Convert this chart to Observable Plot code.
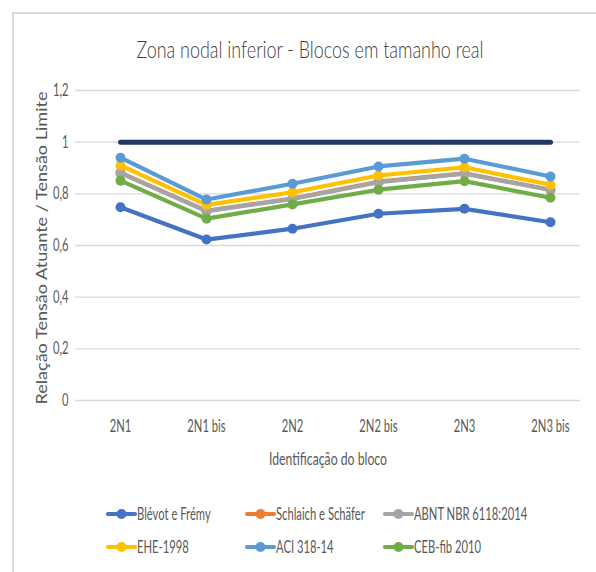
<!DOCTYPE html>
<html><head><meta charset="utf-8">
<script src="https://cdn.jsdelivr.net/npm/d3@7"></script>
<script src="https://cdn.jsdelivr.net/npm/@observablehq/plot@0.6"></script>
<style>
html,body{margin:0;padding:0;background:#fff;}
#wrap{position:relative;width:596px;height:572px;overflow:hidden;background:#fff;}
#wrap > svg{position:absolute;left:0;top:0;}
</style></head><body>
<div id="wrap"></div>
<script>
const categories = ["2N1", "2N1 bis", "2N2", "2N2 bis", "2N3", "2N3 bis"];
const seriesNames = ["Blévot e Frémy", "Schlaich e Schäfer", "ABNT NBR 6118:2014", "EHE-1998", "ACI 318-14", "CEB-fib 2010"];
const seriesColors = ["#4472C4", "#ED7D31", "#A5A5A5", "#FFC000", "#5B9BD5", "#70AD47"];
const blevot   = [0.748, 0.623, 0.665, 0.723, 0.742, 0.690];
const schlaich = [0.882, 0.734, 0.782, 0.847, 0.879, 0.816];
const abnt     = [0.880, 0.733, 0.780, 0.845, 0.878, 0.815];
const ehe      = [0.910, 0.757, 0.806, 0.871, 0.903, 0.835];
const aci      = [0.940, 0.778, 0.839, 0.906, 0.936, 0.867];
const ceb      = [0.851, 0.704, 0.759, 0.816, 0.849, 0.785];
const limite   = [1, 1, 1, 1, 1, 1];
const yTicks = [0, 0.2, 0.4, 0.6, 0.8, 1, 1.2];
const yTickLabels = ["0", "0,2", "0,4", "0,6", "0,8", "1", "1,2"];
const titleText = "Zona nodal inferior - Blocos em tamanho real";
const yTitle = "Relação Tensão Atuante / Tensão Limite";
const xTitle = "Identificação do bloco";

const FONT = 'Lato, "Open Sans", sans-serif';
const SQUEEZE = 0.66;

const allSeries = [blevot, schlaich, abnt, ehe, aci, ceb];
const rows = [];
allSeries.forEach((vals, i) => vals.forEach((v, j) => rows.push({serie: seriesNames[i], cat: categories[j], v})));
const limRows = limite.map((v, j) => ({cat: categories[j], v}));

const marks = [
  Plot.ruleY(yTicks, {stroke: "#d9d9d9", strokeWidth: 1.3}),
  Plot.axisY({ticks: yTicks, tickSize: 0, tickPadding: 7, label: null, tickFormat: d => yTickLabels[yTicks.indexOf(d)], fontSize: 17}),
  Plot.axisX({tickSize: 0, tickPadding: 19, label: null, fontSize: 17}),
  Plot.line(limRows, {x: "cat", y: "v", stroke: "#1F3864", strokeWidth: 5, strokeLinecap: "round"})
];
seriesNames.forEach((name, i) => {
  const data = rows.filter(r => r.serie === name);
  marks.push(Plot.line(data, {x: "cat", y: "v", stroke: seriesColors[i], strokeWidth: 4.2, strokeLinejoin: "round", strokeLinecap: "round"}));
  marks.push(Plot.dot(data, {x: "cat", y: "v", fill: seriesColors[i], r: 5, stroke: "none"}));
});

const chart = Plot.plot({
  width: 596, height: 572,
  marginLeft: 75, marginRight: 16, marginTop: 90, marginBottom: 172,
  style: {fontFamily: FONT, fontSize: "17px", color: "#595959", background: "transparent", overflow: "visible"},
  x: {type: "point", domain: categories, range: [120, 550], padding: 0},
  y: {domain: [0, 1.2]},
  marks
});
const wrap = document.getElementById("wrap");

// overlay: frame, titles, legend
const ns = "http://www.w3.org/2000/svg";
const ov = document.createElementNS(ns, "svg");
ov.setAttribute("width", 596); ov.setAttribute("height", 572);
const frame = document.createElementNS(ns, "path");
frame.setAttribute("d", "M13,600 V13 H600");
frame.setAttribute("fill", "none"); frame.setAttribute("stroke", "#d9d9d9"); frame.setAttribute("stroke-width", 2);
ov.appendChild(frame);
wrap.appendChild(ov);
wrap.appendChild(chart);
const ov2 = document.createElementNS(ns, "svg");
ov2.setAttribute("width", 596); ov2.setAttribute("height", 572);
ov2.style.fontFamily = FONT;
wrap.appendChild(ov2);

function addText(parent, txt, x, y, size, color, anchor, len, rotate, weight) {
  const t = document.createElementNS(ns, "text");
  t.textContent = txt;
  t.setAttribute("x", x); t.setAttribute("y", y);
  t.setAttribute("font-size", size); t.setAttribute("fill", color);
  t.setAttribute("text-anchor", anchor);
  if (weight) t.setAttribute("font-weight", weight);
  if (rotate) t.setAttribute("transform", `rotate(-90 ${x} ${y})`);
  parent.appendChild(t);
  if (len) { t.setAttribute("textLength", len); t.setAttribute("lengthAdjust", "spacingAndGlyphs"); }
  return t;
}
addText(ov2, titleText, 310, 58, 23, "#404040", "middle", 347, false, 300);
addText(ov2, yTitle, 47, 248, 16, "#595959", "middle", 313, true);
addText(ov2, xTitle, 328, 465, 18, "#595959", "middle", 118);

const legX = [106, 245, 383, 106, 245, 383];
const legY = [514, 514, 514, 547, 547, 547];
seriesNames.forEach((name, i) => {
  const g = document.createElementNS(ns, "g");
  const l = document.createElementNS(ns, "line");
  l.setAttribute("x1", legX[i] + 2); l.setAttribute("x2", legX[i] + 29);
  l.setAttribute("y1", legY[i]); l.setAttribute("y2", legY[i]);
  l.setAttribute("stroke", seriesColors[i]); l.setAttribute("stroke-width", 4.2); l.setAttribute("stroke-linecap", "round");
  g.appendChild(l);
  const c = document.createElementNS(ns, "circle");
  c.setAttribute("cx", legX[i] + 15.5); c.setAttribute("cy", legY[i]); c.setAttribute("r", 5);
  c.setAttribute("fill", seriesColors[i]);
  g.appendChild(c);
  ov2.appendChild(g);
  const t = addText(ov2, name, legX[i] + 31, legY[i] + 6, 17, "#595959", "start");
  const w = t.getComputedTextLength();
  t.setAttribute("textLength", w * SQUEEZE); t.setAttribute("lengthAdjust", "spacingAndGlyphs");
});

// narrow the tick labels the same way
chart.querySelectorAll("g[aria-label$='tick label'] text").forEach(t => {
  const w = t.getComputedTextLength();
  t.setAttribute("textLength", w * SQUEEZE); t.setAttribute("lengthAdjust", "spacingAndGlyphs");
});
</script>
</body></html>
